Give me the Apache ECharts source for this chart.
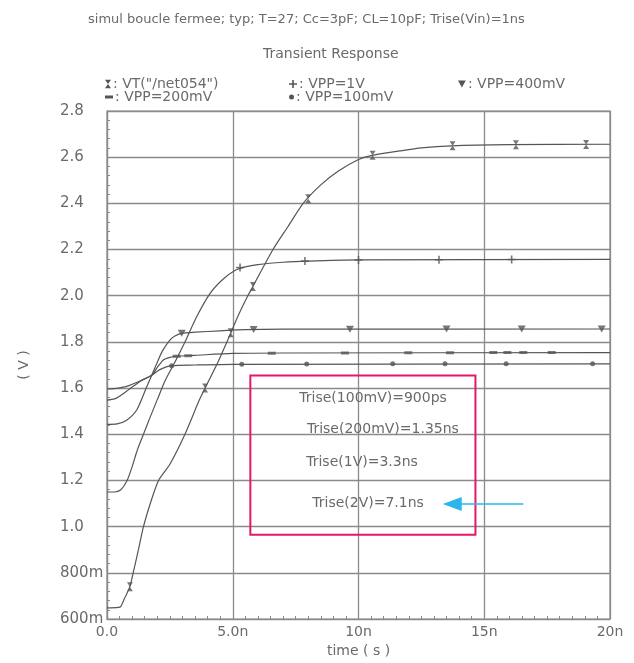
<!DOCTYPE html>
<html>
<head>
<meta charset="utf-8">
<script src="https://cdn.jsdelivr.net/npm/echarts@6/dist/echarts.min.js"></script>
<style>
html,body{margin:0;padding:0;background:#fff;}
#chart{width:634px;height:663px;}
</style>
</head>
<body>
<div id="chart"></div>
<script>
// ---- texts ----
const titleText = 'simul boucle fermee; typ; T=27; Cc=3pF; CL=10pF; Trise(Vin)=1ns';
const subtitleText = 'Transient Response';
const xAxisName = 'time ( s )';
const yAxisName = '( V )';
const xTickValues = [0, 5, 10, 15, 20];
const xTickLabels = ['0.0', '5.0n', '10n', '15n', '20n'];
const yTickValues = [0.6, 0.8, 1.0, 1.2, 1.4, 1.6, 1.8, 2.0, 2.2, 2.4, 2.6, 2.8];
const yTickLabels = ['600m', '800m', '1.0', '1.2', '1.4', '1.6', '1.8', '2.0', '2.2', '2.4', '2.6', '2.8'];
const seriesNames = ['VT("/net054")', 'VPP=1V', 'VPP=400mV', 'VPP=200mV', 'VPP=100mV'];
const annotationTexts = ['Trise(100mV)=900ps', 'Trise(200mV)=1.35ns', 'Trise(1V)=3.3ns', 'Trise(2V)=7.1ns'];

// ---- curves (time in ns, voltage in V) ----
const t2V = [0, 0.45, 0.55, 0.7, 0.91, 1.04, 1.25, 1.45, 1.75, 2.05, 2.5, 3.1, 3.67, 3.9, 4.4, 4.85, 5.2, 5.6, 5.8, 6.6, 7.2, 7.8, 8.5, 9.2, 10, 10.5, 11.65, 12.5, 13.7, 16, 20];
const v2V = [0.648, 0.65, 0.655, 0.69, 0.74, 0.80, 0.90, 1.0, 1.11, 1.2, 1.27, 1.40, 1.548, 1.60, 1.71, 1.82, 1.91, 2.0, 2.04, 2.2, 2.3, 2.4, 2.48, 2.54, 2.59, 2.607, 2.627, 2.64, 2.649, 2.654, 2.656];
const t1V = [0, 0.3, 0.55, 0.8, 1.0, 1.2, 1.45, 1.7, 2.0, 2.3, 2.64, 3.1, 3.57, 4.1, 4.6, 5.1, 5.5, 6, 7, 8, 10, 20];
const v1V = [1.15, 1.15, 1.16, 1.2, 1.26, 1.33, 1.40, 1.47, 1.55, 1.63, 1.70, 1.80, 1.91, 2.01, 2.07, 2.11, 2.125, 2.135, 2.145, 2.15, 2.155, 2.157];
const t400 = [0, 0.4, 0.78, 1.18, 1.58, 1.78, 1.98, 2.2, 2.5, 2.7, 2.97, 3.5, 4.5, 5.5, 7, 20];
const v400 = [1.443, 1.445, 1.461, 1.505, 1.606, 1.656, 1.707, 1.76, 1.808, 1.826, 1.837, 1.842, 1.848, 1.853, 1.855, 1.856];
const t200 = [0, 0.3, 0.5, 0.8, 1.1, 1.4, 1.78, 2.0, 2.24, 2.5, 2.77, 3.5, 5, 7, 20];
const v200 = [1.548, 1.553, 1.565, 1.588, 1.612, 1.635, 1.656, 1.69, 1.722, 1.733, 1.738, 1.742, 1.75, 1.752, 1.754];
const t100 = [0, 0.3, 0.6, 0.9, 1.2, 1.5, 1.78, 2.1, 2.57, 3.5, 5, 20];
const v100 = [1.596, 1.598, 1.603, 1.612, 1.625, 1.64, 1.656, 1.68, 1.697, 1.70, 1.703, 1.705];

// ---- marker points [time ns, V] ----
const mk2V = [[0.91, 0.74], [3.9, 1.6], [4.92, 1.84], [5.8, 2.04], [8.0, 2.42], [10.56, 2.608], [13.74, 2.649], [16.26, 2.654], [19.05, 2.655]];
const mk1V = [[5.29, 2.122], [7.87, 2.15], [10.0, 2.155], [13.2, 2.156], [16.09, 2.157]];
const mk400 = [[2.97, 1.837], [5.83, 1.854], [9.66, 1.855], [13.5, 1.856], [16.49, 1.856], [19.67, 1.856]];
const mk200 = [[2.77, 1.738], [3.23, 1.74], [6.55, 1.751], [9.46, 1.752], [11.98, 1.753], [13.64, 1.753], [15.36, 1.754], [15.92, 1.754], [16.55, 1.754], [17.68, 1.754]];
const mk100 = [[2.57, 1.697], [5.36, 1.703], [7.94, 1.704], [11.36, 1.705], [13.44, 1.705], [15.87, 1.705], [19.31, 1.705]];

// ---- annotation anchors in data space [time ns, V] ----
const boxCorners = [[5.7, 1.655], [14.65, 0.965]];
const textAnchors = [[10.58, 1.557], [10.97, 1.422], [10.14, 1.28], [10.38, 1.102]];
const arrowEnds = [[16.55, 1.098], [13.35, 1.098]];

// ---- styling ----
const FONT = 'DejaVu Sans';
const TXT = '#6a6a6a';
const LINE = '#555';
const GRID = '#8a8a8a';
const symHourglass = 'path://M0,0L10,0L0,14L10,14Z';
const symPlus = 'path://M4,0L6,0L6,4L10,4L10,6L6,6L6,10L4,10L4,6L0,6L0,4L4,4Z';
const symTriDown = 'path://M0,0L10,0L5,9Z';

const curves = [[t2V, v2V], [t1V, v1V], [t400, v400], [t200, v200], [t100, v100]];
const markers = [mk2V, mk1V, mk400, mk200, mk100];
const markerSymbols = [symHourglass, symPlus, symTriDown, 'rect', 'circle'];
const markerSizes = [[6, 9], 8, [8, 7], [8, 3], 5];

function zip(t, v) { return t.map((x, i) => [x, v[i]]); }

const series = [];
curves.forEach((c, i) => {
  series.push({
    name: seriesNames[i], type: 'line', data: zip(c[0], c[1]),
    showSymbol: false, smooth: 0.25,
    lineStyle: { color: LINE, width: 1.2 }, itemStyle: { color: LINE },
    silent: true, z: 3
  });
});
markers.forEach((m, i) => {
  series.push({
    name: seriesNames[i], type: 'scatter', data: m,
    symbol: markerSymbols[i], symbolSize: markerSizes[i],
    itemStyle: { color: LINE }, silent: true, z: 4
  });
});

const legendPos = [[105, 77], [289, 77], [458, 77], [105, 90], [289, 90]];
const legendIconSize = [[6, 9], [8, 8], [8, 7], [8, 3], [5, 5]];
const legends = seriesNames.map((n, i) => ({
  data: [{ name: n, icon: markerSymbols[i] }],
  left: legendPos[i][0], top: legendPos[i][1],
  itemWidth: legendIconSize[i][0], itemHeight: legendIconSize[i][1],
  itemStyle: { color: LINE },
  selectedMode: false, padding: 0,
  formatter: (name) => ': ' + name,
  textStyle: { color: TXT, fontSize: 14, fontFamily: FONT, padding: [0, 0, 0, -3] }
}));

const chart = echarts.init(document.getElementById('chart'), null, { renderer: 'canvas' });
const option = {
  backgroundColor: '#ffffff',
  animation: false,
  title: [
    { text: titleText, left: 83, top: 8, textStyle: { fontSize: 13, fontWeight: 'normal', color: TXT, fontFamily: FONT } },
    { text: subtitleText, left: 258, top: 42, textStyle: { fontSize: 14, fontWeight: 'normal', color: TXT, fontFamily: FONT } }
  ],
  legend: legends,
  grid: { left: 107, right: 24, top: 111, bottom: 44, show: true, borderColor: GRID, borderWidth: 1.2, backgroundColor: 'transparent' },
  xAxis: {
    type: 'value', min: 0, max: 20, interval: 5,
    name: xAxisName, nameLocation: 'middle', nameGap: 21,
    nameTextStyle: { color: TXT, fontSize: 14, fontFamily: FONT },
    axisLine: { show: true, lineStyle: { color: GRID, width: 1.2 } },
    axisTick: { show: true, inside: true, length: 4, lineStyle: { color: GRID } },
    minorTick: { show: true, splitNumber: 10, length: 3, lineStyle: { color: GRID } },
    splitLine: { show: true, lineStyle: { color: GRID, width: 1.3 } },
    axisLabel: {
      color: TXT, fontSize: 14, fontFamily: FONT, margin: 6,
      formatter: (v) => { const k = xTickValues.findIndex(x => Math.abs(x - v) < 1e-6); return k >= 0 ? xTickLabels[k] : ''; }
    }
  },
  yAxis: {
    type: 'value', min: 0.6, max: 2.8, interval: 0.2,
    name: yAxisName, nameLocation: 'middle', nameGap: 76, nameRotate: 90,
    nameTextStyle: { color: TXT, fontSize: 14, fontFamily: FONT },
    axisLine: { show: true, lineStyle: { color: GRID, width: 1.2 } },
    axisTick: { show: true, inside: true, length: 4, lineStyle: { color: GRID } },
    minorTick: { show: true, splitNumber: 5, length: 3, lineStyle: { color: GRID } },
    splitLine: { show: true, lineStyle: { color: GRID, width: 1.3 } },
    axisLabel: {
      color: TXT, fontSize: 15, fontFamily: FONT, margin: 47, align: 'left',
      formatter: (v) => { const k = yTickValues.findIndex(y => Math.abs(y - v) < 1e-6); return k >= 0 ? yTickLabels[k] : ''; }
    }
  },
  series: series
};
chart.setOption(option);

// annotation (positioned from data coordinates)
const px = (p) => chart.convertToPixel({ gridIndex: 0 }, p);
const b0 = px(boxCorners[0]), b1 = px(boxCorners[1]);
const a0 = px(arrowEnds[0]), a1 = px(arrowEnds[1]);
const graphics = [
  { type: 'rect', shape: { x: b0[0], y: b0[1], width: b1[0] - b0[0], height: b1[1] - b0[1] },
    style: { fill: 'none', stroke: '#e5176b', lineWidth: 2 }, z: 10 }
];
annotationTexts.forEach((s, i) => {
  const p = px(textAnchors[i]);
  graphics.push({ type: 'text', x: p[0], y: p[1], z: 10,
    style: { text: s, fill: TXT, font: '14px "' + FONT + '"', textAlign: 'center', textVerticalAlign: 'middle' } });
});
graphics.push({ type: 'line', shape: { x1: a0[0], y1: a0[1], x2: a1[0] + 18, y2: a1[1] },
  style: { stroke: '#2bb5ec', lineWidth: 1.6 }, z: 10 });
graphics.push({ type: 'polygon', shape: { points: [[a1[0], a1[1]], [a1[0] + 19, a1[1] - 7], [a1[0] + 19, a1[1] + 7]] },
  style: { fill: '#2bb5ec' }, z: 10 });
chart.setOption({ graphic: graphics });
</script>
</body>
</html>
